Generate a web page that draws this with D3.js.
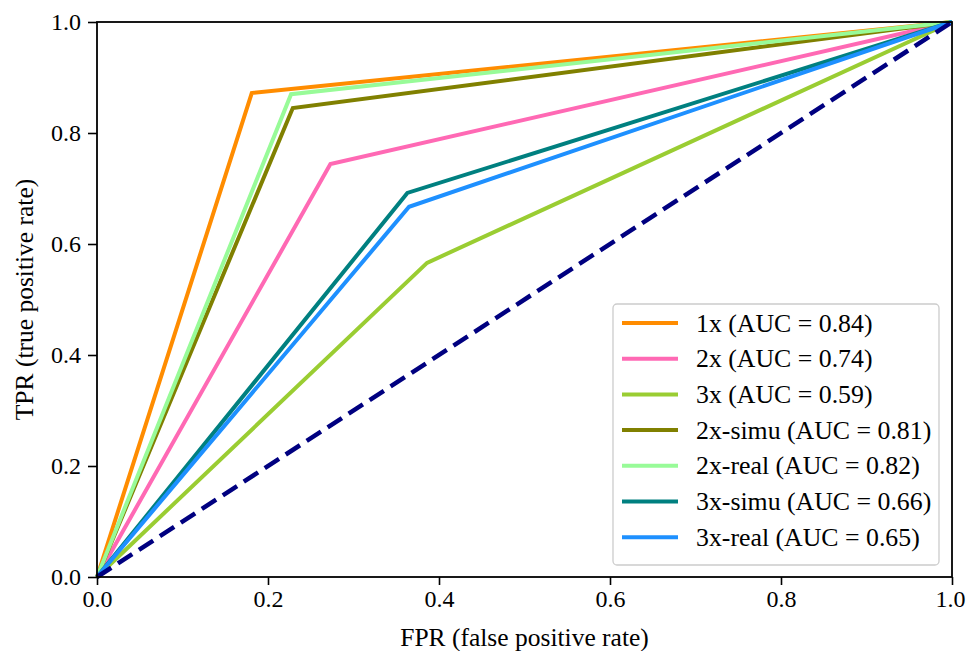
<!DOCTYPE html>
<html>
<head>
<meta charset="utf-8">
<script src="https://cdn.jsdelivr.net/npm/d3@7"></script>
<style>
  body { margin: 0; background: #fff; }
  svg text { font-family: "Liberation Serif", "Times New Roman", serif; fill: #000; }
</style>
</head>
<body>
<script>
let w = 966;
let h = 651;
let margin = {left: 97, right: 14, top: 22, bottom: 74};

// ROC data: fpr / tpr per model
let names = ["1x", "2x", "3x", "2x-simu", "2x-real", "3x-simu", "3x-real"];
let aucs = [0.84, 0.74, 0.59, 0.81, 0.82, 0.66, 0.65];
let colors = ["darkorange", "hotpink", "yellowgreen", "olive", "palegreen", "teal", "dodgerblue"];
let fprs = [
  [0, 0.181, 1],
  [0, 0.273, 1],
  [0, 0.386, 1],
  [0, 0.229, 1],
  [0, 0.227, 1],
  [0, 0.363, 1],
  [0, 0.365, 1]
];
let tprs = [
  [0, 0.872, 1],
  [0, 0.744, 1],
  [0, 0.566, 1],
  [0, 0.845, 1],
  [0, 0.870, 1],
  [0, 0.692, 1],
  [0, 0.667, 1]
];
let diagonal = [0, 1];
let ticks = [0, 0.2, 0.4, 0.6, 0.8, 1.0];

let xScale = d3.scaleLinear()
  .domain([0, 1])
  .range([margin.left, w - margin.right]);

let yScale = d3.scaleLinear()
  .domain([0, 1])
  .range([h - margin.bottom, margin.top]);

let svg = d3.select("body")
  .append("svg")
  .attr("width", w)
  .attr("height", h);

let line = d3.line()
  .x(d => xScale(d[0]))
  .y(d => yScale(d[1]));

// curves, drawn in legend order
svg.selectAll("path.roc")
  .data(names)
  .enter()
  .append("path")
  .attr("class", "roc")
  .attr("d", (d, i) => line(fprs[i].map((f, j) => [f, tprs[i][j]])))
  .attr("fill", "none")
  .attr("stroke", (d, i) => colors[i])
  .attr("stroke-width", 4)
  .attr("stroke-linejoin", "miter");

// chance line
svg.append("path")
  .attr("d", line(diagonal.map(d => [d, d])))
  .attr("fill", "none")
  .attr("stroke", "navy")
  .attr("stroke-width", 4.5)
  .attr("stroke-dasharray", "17,8");

// axes
let xAxis = d3.axisBottom(xScale)
  .tickValues(ticks)
  .tickFormat(d3.format(".1f"))
  .tickSize(8)
  .tickPadding(5);

let yAxis = d3.axisLeft(yScale)
  .tickValues(ticks)
  .tickFormat(d3.format(".1f"))
  .tickSize(9)
  .tickPadding(7);

let gx = svg.append("g")
  .attr("transform", "translate(0," + (h - margin.bottom) + ")")
  .call(xAxis);

let gy = svg.append("g")
  .attr("transform", "translate(" + margin.left + ",0)")
  .call(yAxis);

[gx, gy].forEach(g => {
  g.select(".domain").remove();
  g.selectAll(".tick line").attr("stroke", "#000").attr("stroke-width", 1.6);
  g.selectAll(".tick text")
    .attr("font-family", "Liberation Serif, serif")
    .attr("font-size", "24px")
    .attr("fill", "#000");
});

// last x label sits at the page edge, pull it in a touch
gx.selectAll(".tick text")
  .filter(d => d === 1)
  .attr("dx", "-2px");

// frame
svg.append("rect")
  .attr("x", xScale(0))
  .attr("y", yScale(1))
  .attr("width", xScale(1) - xScale(0))
  .attr("height", yScale(0) - yScale(1))
  .attr("fill", "none")
  .attr("stroke", "#000")
  .attr("stroke-width", 1.8);

// axis labels
svg.append("text")
  .attr("x", (xScale(0) + xScale(1)) / 2)
  .attr("y", 646)
  .attr("text-anchor", "middle")
  .attr("font-size", "25.5px")
  .text("FPR (false positive rate)");

svg.append("text")
  .attr("transform", "translate(33," + (yScale(0) + yScale(1)) / 2 + ") rotate(-90)")
  .attr("text-anchor", "middle")
  .attr("font-size", "25.5px")
  .text("TPR (true positive rate)");

// legend
let lx = 613, ly = 304, rowH = 35.7;
svg.append("rect")
  .attr("x", lx)
  .attr("y", ly)
  .attr("width", 326)
  .attr("height", 261)
  .attr("rx", 4)
  .attr("fill", "#fff")
  .attr("fill-opacity", 0.85)
  .attr("stroke", "#cccccc")
  .attr("stroke-width", 1.3);

let items = svg.selectAll("g.legend")
  .data(names)
  .enter()
  .append("g")
  .attr("class", "legend")
  .attr("transform", (d, i) => "translate(" + lx + "," + (ly + 19 + i * rowH) + ")");

items.append("line")
  .attr("x1", 9)
  .attr("x2", 65)
  .attr("stroke", (d, i) => colors[i])
  .attr("stroke-width", 4);

items.append("text")
  .attr("x", 83)
  .attr("y", 8.5)
  .attr("font-size", "25.8px")
  .text((d, i) => d + " (AUC = " + aucs[i].toFixed(2) + ")");
</script>
</body>
</html>
